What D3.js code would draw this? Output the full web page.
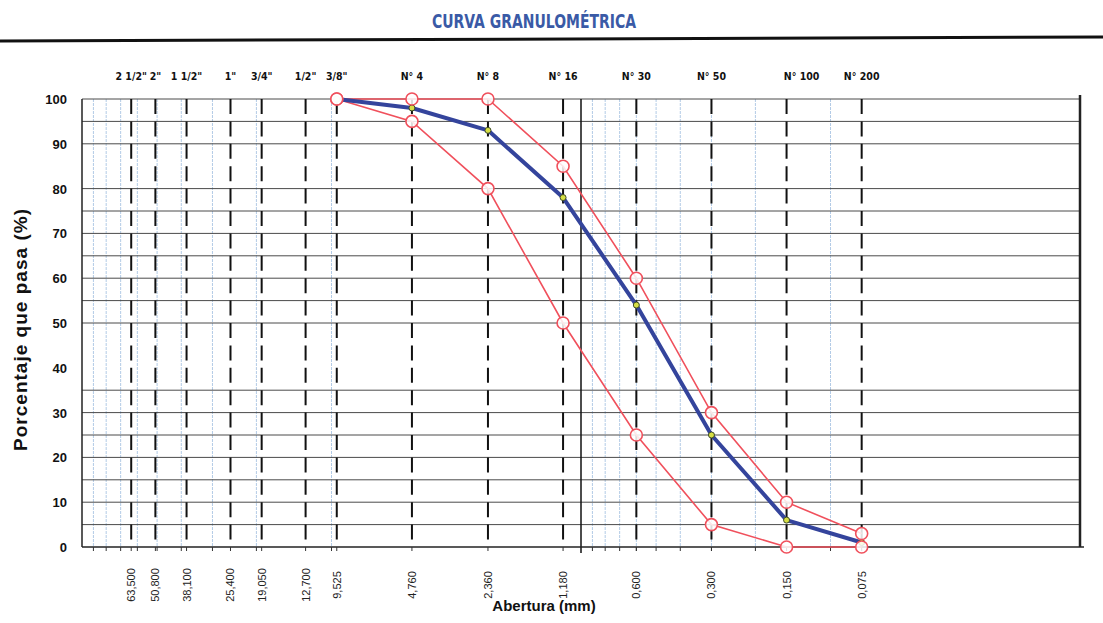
<!DOCTYPE html>
<html>
<head>
<meta charset="utf-8">
<script src="https://cdn.jsdelivr.net/npm/d3@7"></script>
<style>
  body { margin: 0; background: #fff; }
  svg { display: block; }
</style>
</head>
<body>
<svg id="chart" width="1103" height="623"></svg>
<script>
// sieve series (openings in mm)
const sieveLabels = ['2 1/2"', '2"', '1 1/2"', '1"', '3/4"', '1/2"', '3/8"', "N° 4", "N° 8", "N° 16", "N° 30", "N° 50", "N° 100", "N° 200"];
const openings = [63.5, 50.8, 38.1, 25.4, 19.05, 12.7, 9.525, 4.76, 2.36, 1.18, 0.6, 0.3, 0.15, 0.075];
const openingLabels = ["63,500", "50,800", "38,100", "25,400", "19,050", "12,700", "9,525", "4,760", "2,360", "1,180", "0,600", "0,300", "0,150", "0,075"];

// curves
const curveOpenings = [9.525, 4.76, 2.36, 1.18, 0.6, 0.3, 0.15, 0.075];
const passing = [100, 98, 93, 78, 54, 25, 6, 1];
const upperLimit = [100, 100, 100, 85, 60, 30, 10, 3];
const lowerLimit = [100, 95, 80, 50, 25, 5, 0, 0];

// axis ticks / grid
const yTicks = [0, 10, 20, 30, 40, 50, 60, 70, 80, 90, 100];
const gridValues = [5, 10, 15, 20, 25, 30, 35, 50, 55, 60, 65, 70, 75, 80, 90, 95, 100];
const minorOpenings = [90, 80, 70, 60, 50, 40, 30, 20, 10, 0.9, 0.8, 0.7, 0.6, 0.5, 0.4, 0.3, 0.2, 0.1];

const svg = d3.select("#chart");
const plotLeft = 82, plotRight = 1080, plotTop = 99, plotBottom = 547;

const x = d3.scaleLog().domain([100, 0.01]).range([plotLeft, plotRight]);
const y = d3.scaleLinear().domain([0, 100]).range([plotBottom, plotTop]);

const narrow = "'Liberation Sans Narrow', 'Arial Narrow', 'DejaVu Sans Condensed', sans-serif";
const sans = "'Liberation Sans', Arial, sans-serif";

// title + rule
svg.append("text")
  .attr("x", 534).attr("y", 28)
  .attr("text-anchor", "middle")
  .attr("font-family", narrow)
  .attr("font-weight", "bold")
  .attr("font-size", 20)
  .attr("fill", "#3a5aa6")
  .attr("textLength", 204)
  .attr("lengthAdjust", "spacingAndGlyphs")
  .text("CURVA GRANULOMÉTRICA");

svg.append("line")
  .attr("x1", 0).attr("x2", 1103)
  .attr("y1", 41).attr("y2", 37)
  .attr("stroke", "#111").attr("stroke-width", 3);

const g = svg.append("g");

// light blue minor verticals
g.selectAll(".minor")
  .data(minorOpenings)
  .enter().append("line")
  .attr("x1", d => x(d)).attr("x2", d => x(d))
  .attr("y1", y(100)).attr("y2", y(0))
  .attr("stroke", "#b3cbe6")
  .attr("stroke-width", 1)
  .attr("stroke-dasharray", "3,1");

// horizontal grid
g.selectAll(".hgrid")
  .data(gridValues)
  .enter().append("line")
  .attr("x1", plotLeft).attr("x2", plotRight)
  .attr("y1", d => y(d)).attr("y2", d => y(d))
  .attr("stroke", "#4a4a4a")
  .attr("stroke-width", 1);

// dashed sieve lines
g.selectAll(".sieve")
  .data(openings)
  .enter().append("line")
  .attr("x1", d => x(d)).attr("x2", d => x(d))
  .attr("y1", y(100)).attr("y2", y(1))
  .attr("stroke", "#111")
  .attr("stroke-width", 2)
  .attr("stroke-dasharray", "15,7.4");

// solid line at 1 mm
g.append("line")
  .attr("x1", x(1)).attr("x2", x(1))
  .attr("y1", y(100)).attr("y2", plotBottom + 6)
  .attr("stroke", "#111").attr("stroke-width", 1.5);

// frame
g.append("line").attr("x1", plotLeft).attr("x2", plotLeft).attr("y1", plotTop).attr("y2", plotBottom)
  .attr("stroke", "#222").attr("stroke-width", 1.5);
g.append("line").attr("x1", plotRight).attr("x2", plotRight).attr("y1", plotTop - 4).attr("y2", plotBottom)
  .attr("stroke", "#222").attr("stroke-width", 2.5);
g.append("line").attr("x1", plotLeft).attr("x2", plotRight + 4).attr("y1", plotBottom).attr("y2", plotBottom)
  .attr("stroke", "#222").attr("stroke-width", 1.5);

// small ticks on the bottom axis
g.selectAll(".btick")
  .data(minorOpenings.concat(openings))
  .enter().append("line")
  .attr("x1", d => x(d)).attr("x2", d => x(d))
  .attr("y1", plotBottom).attr("y2", plotBottom + 4)
  .attr("stroke", "#333").attr("stroke-width", 1);

// y tick labels
svg.selectAll(".ylab")
  .data(yTicks)
  .enter().append("text")
  .attr("x", 67)
  .attr("y", d => y(d) + 5)
  .attr("text-anchor", "end")
  .attr("font-family", sans)
  .attr("font-weight", "bold")
  .attr("font-size", 13)
  .attr("fill", "#111")
  .text(d => d);

// y title
svg.append("text")
  .attr("transform", "translate(27,330) rotate(-90)")
  .attr("text-anchor", "middle")
  .attr("font-family", sans)
  .attr("font-weight", "bold")
  .attr("font-size", 19)
  .attr("fill", "#111")
  .attr("textLength", 242)
  .text("Porcentaje que pasa (%)");

// top sieve labels
svg.selectAll(".toplab")
  .data(sieveLabels)
  .enter().append("text")
  .attr("x", (d, i) => x(openings[i]) + (d === "N° 100" ? 15 : 0))
  .attr("y", 80)
  .attr("text-anchor", "middle")
  .attr("font-family", narrow)
  .attr("font-weight", "bold")
  .attr("font-size", 10.5)
  .attr("fill", "#111")
  .text(d => d);

// bottom opening labels (rotated)
svg.selectAll(".botlab")
  .data(openingLabels)
  .enter().append("text")
  .attr("transform", (d, i) => "translate(" + (x(openings[i]) + 4) + ",585) rotate(-90)")
  .attr("text-anchor", "middle")
  .attr("font-family", sans)
  .attr("font-size", 11)
  .attr("fill", "#222")
  .text(d => d);

// x title
svg.append("text")
  .attr("x", 544).attr("y", 611)
  .attr("text-anchor", "middle")
  .attr("font-family", sans)
  .attr("font-weight", "bold")
  .attr("font-size", 15)
  .attr("fill", "#111")
  .text("Abertura (mm)");

// curves
const pts = vals => curveOpenings.map((o, i) => [x(o), y(vals[i])]);

const straight = d3.line();

[upperLimit, lowerLimit].forEach(vals => {
  g.append("path")
    .attr("d", straight(pts(vals)))
    .attr("fill", "none")
    .attr("stroke", "#f0505c")
    .attr("stroke-width", 1.6);
});

g.append("path")
  .attr("d", straight(pts(passing)))
  .attr("fill", "none")
  .attr("stroke", "#34449c")
  .attr("stroke-width", 4)
  .attr("stroke-linejoin", "round")
  .attr("stroke-linecap", "round");

g.selectAll(".pdot")
  .data(pts(passing))
  .enter().append("circle")
  .attr("cx", d => d[0]).attr("cy", d => d[1])
  .attr("r", 3)
  .attr("fill", "#d6df45")
  .attr("stroke", "#3d4a28")
  .attr("stroke-width", 1);

[upperLimit, lowerLimit].forEach(vals => {
  g.selectAll(null)
    .data(pts(vals))
    .enter().append("circle")
    .attr("cx", d => d[0]).attr("cy", d => d[1])
    .attr("r", 6)
    .attr("fill", "#fff")
    .attr("fill-opacity", 0.85)
    .attr("stroke", "#f0505c")
    .attr("stroke-width", 1.6);
});
</script>
</body>
</html>
